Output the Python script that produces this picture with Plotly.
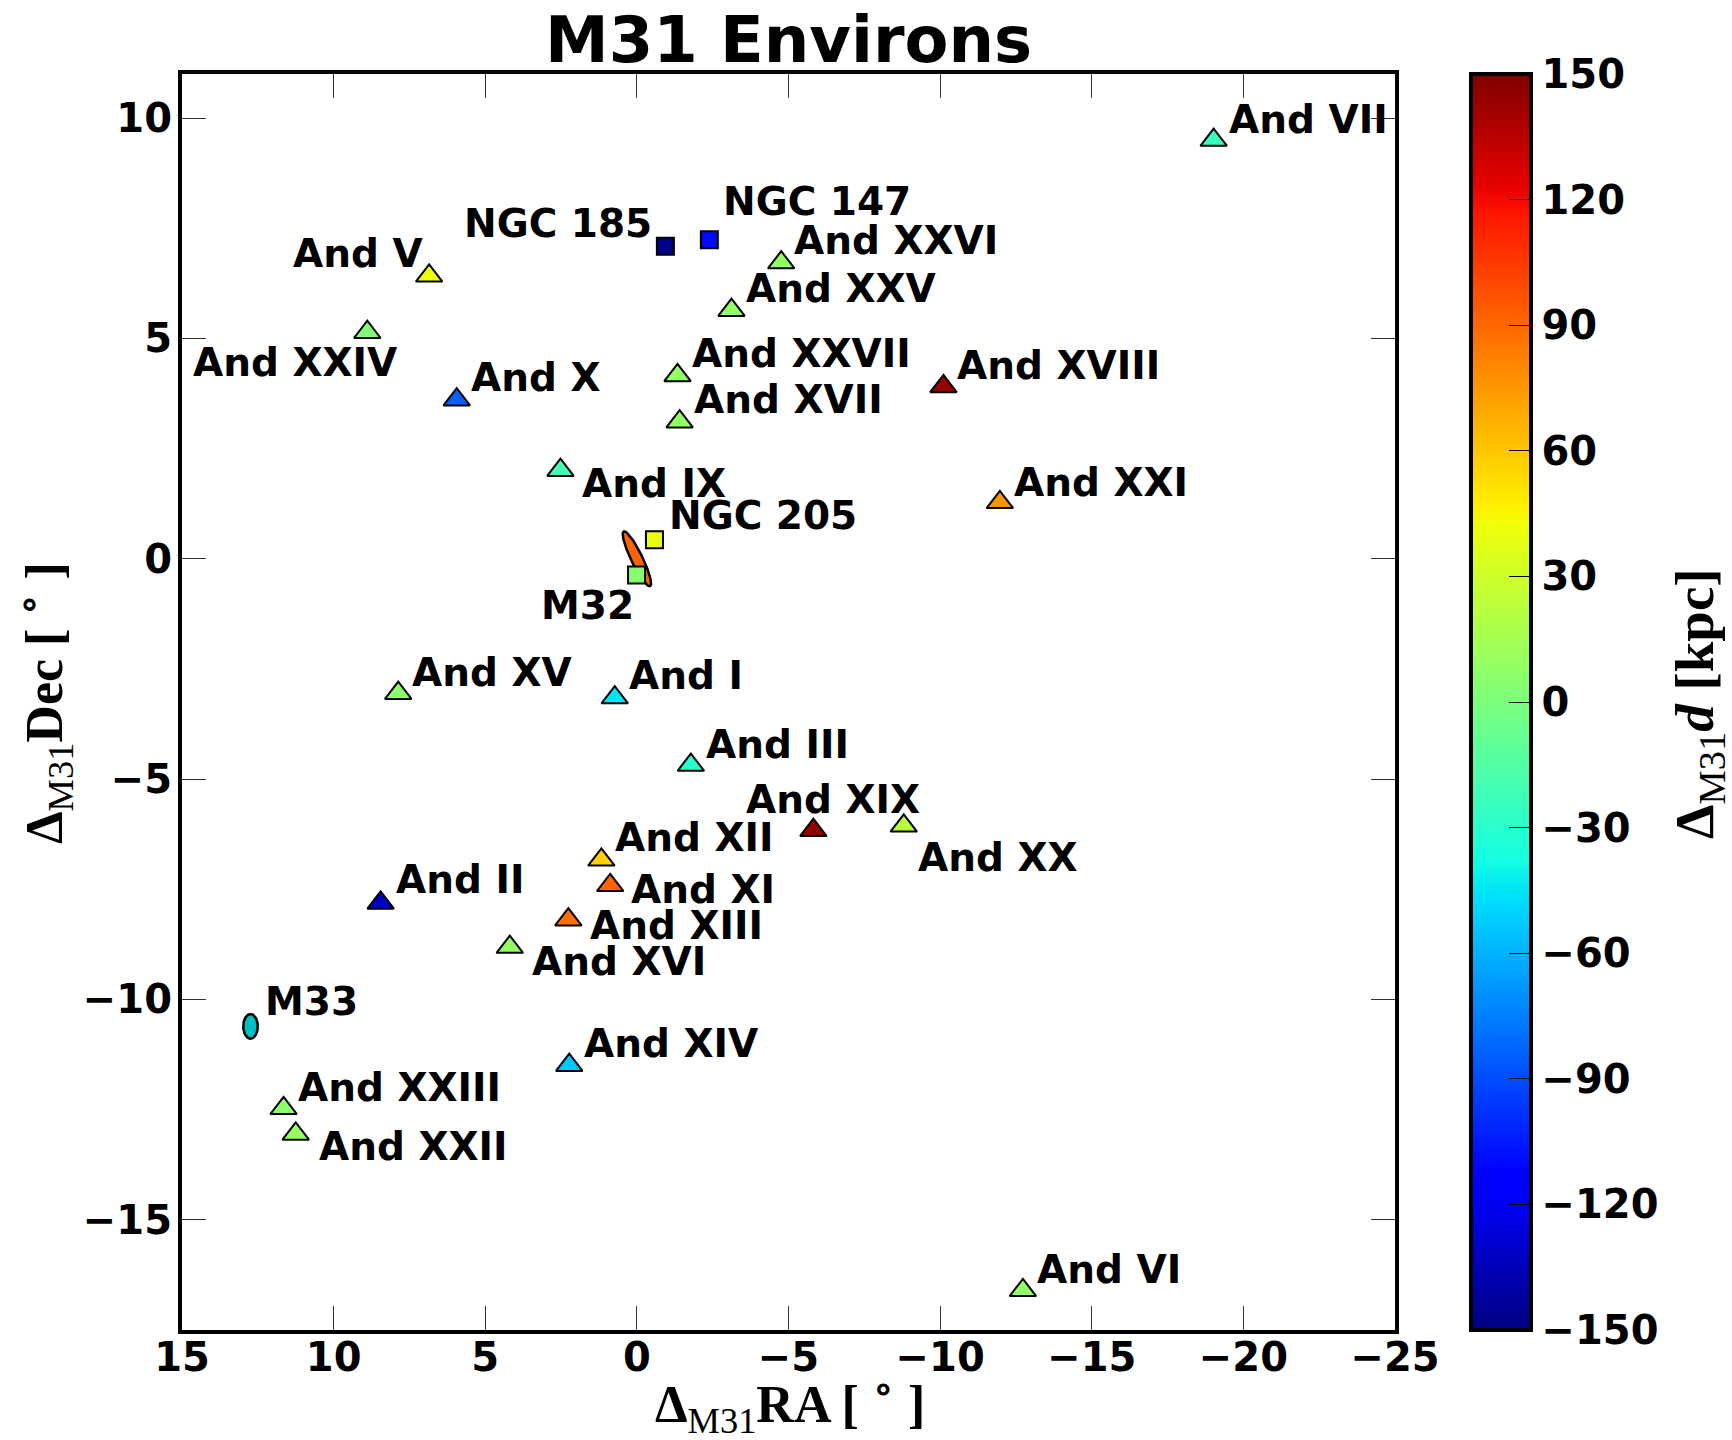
import numpy as np
import plotly.graph_objects as go

# ---- satellite data (offsets from M31, degrees; line-of-sight offset, kpc) ----
tri_names = ["And VII", "And XXVI", "And V", "And XXV", "And XXIV", "And XXVII",
             "And X", "And XVIII", "And XVII", "And IX", "And XXI", "And XV",
             "And I", "And III", "And XIX", "And XX", "And XII", "And XI",
             "And II", "And XIII", "And XVI", "And XIV", "And XXIII", "And XXII",
             "And VI"]
tri_ra = [-19.02, -4.76, 6.85, -3.12, 8.89, -1.34,
          5.94, -10.11, -1.41, 2.52, -11.97, 7.87,
          0.73, -1.78, -5.82, -8.80, 1.17, 0.88,
          8.45, 2.26, 4.19, 2.23, 11.65, 11.25,
          -12.73]
tri_dec = [9.50, 6.72, 6.42, 5.64, 5.14, 4.16,
           3.61, 3.91, 3.11, 2.01, 1.28, -3.05,
           -3.15, -4.68, -6.16, -6.06, -6.83, -7.41,
           -7.81, -8.19, -8.81, -11.49, -12.47, -13.05,
           -16.60]
tri_dd = [-24, 8, 42, 8, 2, 8,
          -84, 144, 8, -22, 76, 6,
          -45, -30, 145, 22, 57, 91,
          -132, 88, 8, -54, 6, 10,
          8]

sq_names = ["NGC 147", "NGC 185", "NGC 205", "M32"]
sq_ra = [-2.39, -0.94, -0.58, 0.01]
sq_dec = [7.24, 7.09, 0.43, -0.37]
sq_dd = [-110, -149, 40, 4]

# extended hosts drawn as ellipses: centre, semi-axes (deg), position angle (deg)
ell_names = ["M31", "M33"]
ell_ra = [0.0, 12.74]
ell_dec = [0.0, -10.61]
ell_a = [0.76, 0.28]
ell_b = [0.17, 0.24]
ell_pa = [36.0, 0.0]

# ---- label placement: (xshift px, yshift px, xanchor) relative to marker ----
label_pos = {
    "And VII": (13, 21, "left"), "NGC 147": (12, 38, "left"),
    "NGC 185": (-11, 23, "right"), "And XXVI": (11, 22, "left"),
    "And V": (-4, 22, "right"), "And XXV": (13, 22, "left"),
    "And XXIV": (32, -30, "right"), "And XXVII": (12, 22, "left"),
    "And X": (12, 22, "left"), "And XVIII": (12, 21, "left"),
    "And XVII": (12, 22, "left"), "And IX": (20, -13, "left"),
    "And XXI": (12, 20, "left"), "NGC 205": (13, 24, "left"),
    "M32": (-1, -30, "right"), "And XV": (12, 21, "left"),
    "And I": (12, 22, "left"), "And III": (13, 21, "left"),
    "And XIX": (20, 31, "center"), "And XX": (12, -32, "left"),
    "And XII": (12, 22, "left"), "And XI": (19, -4, "left"),
    "And II": (13, 23, "left"), "And XIII": (20, -6, "left"),
    "And XVI": (20, -14, "left"), "M33": (12, 25, "left"),
    "And XIV": (13, 22, "left"), "And XXIII": (12, 21, "left"),
    "And XXII": (21, -13, "left"), "And VI": (12, 21, "left"),
}

# ---- jet colour map (matplotlib segment definition) ----
seg_r = [(0, 0), (0.35, 0), (0.66, 1), (0.89, 1), (1, 0.5)]
seg_g = [(0, 0), (0.125, 0), (0.375, 1), (0.64, 1), (0.91, 0), (1, 0)]
seg_b = [(0, 0.5), (0.11, 1), (0.34, 1), (0.65, 0), (1, 0)]
knots = sorted({p for seg in (seg_r, seg_g, seg_b) for p, _ in seg})


def seg_val(seg, t):
    return float(np.interp(t, [p for p, _ in seg], [v for _, v in seg]))


def jet_rgb(t):
    return "rgb(%d,%d,%d)" % tuple(round(255 * seg_val(s, t)) for s in (seg_r, seg_g, seg_b))


jet = [[t, jet_rgb(t)] for t in knots]

ell_fill = ["rgb(255,100,0)", "rgb(0,190,196)"]

# plot-area geometry (pixels)
W, H = 1732, 1440
L, R, T, B = 182, 1395, 74, 1330
PW, PH = R - L, B - T


def px(x):
    return (x - L) / PW


def py(y):
    return (B - y) / PH


fig = go.Figure()

# extended galaxies
for name, x0, y0, a, b, pa, col in zip(ell_names, ell_ra, ell_dec, ell_a, ell_b, ell_pa, ell_fill):
    t = np.linspace(0, 2 * np.pi, 121)
    th = np.radians(pa)
    ux, uy = np.sin(th), np.cos(th)
    vx, vy = np.cos(th), -np.sin(th)
    xs = x0 + a * np.cos(t) * ux + b * np.sin(t) * vx
    ys = y0 + a * np.cos(t) * uy + b * np.sin(t) * vy
    fig.add_trace(go.Scatter(x=xs, y=ys, mode="lines", fill="toself",
                             fillcolor=col, line=dict(color="black", width=2.5),
                             hoverinfo="skip", showlegend=False))

fig.add_trace(go.Scatter(
    x=sq_ra, y=sq_dec, mode="markers", text=sq_names, showlegend=False,
    marker=dict(symbol="square", size=17, color=sq_dd, coloraxis="coloraxis",
                line=dict(color="black", width=2))))

fig.add_trace(go.Scatter(
    x=tri_ra, y=tri_dec, mode="markers", text=tri_names, showlegend=False,
    marker=dict(symbol="triangle-up", size=23, color=tri_dd, coloraxis="coloraxis",
                line=dict(color="black", width=2))))

label_font = dict(family="DejaVu Sans", size=39, color="black", weight="bold")
all_names = tri_names + sq_names + ["M33"]
all_x = tri_ra + sq_ra + [ell_ra[1]]
all_y = tri_dec + sq_dec + [ell_dec[1]]
for name, x, y in zip(all_names, all_x, all_y):
    dx, dy, anc = label_pos[name]
    fig.add_annotation(x=x, y=y, text=name, showarrow=False, xanchor=anc,
                       yanchor="middle", xshift=dx, yshift=dy, font=label_font)

serif = dict(family="Liberation Serif", size=52, color="black")
fig.add_annotation(xref="paper", yref="paper", x=0.5, y=py(40), text="M31 Environs",
                   showarrow=False, xanchor="center", yanchor="middle",
                   font=dict(family="DejaVu Sans", size=64, color="black", weight="bold"))
fig.add_annotation(xref="paper", yref="paper", x=px(790), y=py(1404),
                   text="<b>Δ</b><sub>M31</sub><b>RA [ <sup>∘</sup> ]</b>",
                   showarrow=False, xanchor="center", yanchor="middle", font=serif)
fig.add_annotation(xref="paper", yref="paper", x=px(44), y=py(703), textangle=-90,
                   text="<b>Δ</b><sub>M31</sub><b>Dec [ <sup>∘</sup> ]</b>",
                   showarrow=False, xanchor="center", yanchor="middle", font=serif)
fig.add_annotation(xref="paper", yref="paper", x=px(1698), y=py(704), textangle=-90,
                   text="<b>Δ</b><sub>M31</sub><i><b>d</b></i><b> [kpc]</b>",
                   showarrow=False, xanchor="center", yanchor="middle",
                   font=dict(family="Liberation Serif", size=55, color="black"))

tick_font = dict(family="DejaVu Sans", size=40, color="black", weight="bold")
axis_common = dict(showgrid=False, zeroline=False, showline=True, linewidth=4,
                   linecolor="black", mirror="allticks", ticks="inside", ticklen=24,
                   tickwidth=1, tickcolor="#333333", tickfont=tick_font, dtick=5)

fig.update_layout(
    width=W, height=H, paper_bgcolor="white", plot_bgcolor="white",
    margin=dict(l=L, r=W - R, t=T, b=H - B),
    xaxis=dict(range=[15, -25], tick0=0, ticklabelstandoff=-11, **axis_common),
    yaxis=dict(range=[-17.5, 11], tick0=0, ticklabelstandoff=-2, **axis_common),
    coloraxis=dict(
        colorscale=jet, cmin=-150, cmax=150,
        colorbar=dict(
            x=px(1471), xanchor="left", xpad=0,
            y=0.5, yanchor="middle", ypad=0,
            len=1, lenmode="fraction", thickness=60, thicknessmode="pixels",
            outlinewidth=4, outlinecolor="black",
            tickvals=list(range(-150, 151, 30)), ticks="inside", ticklen=24,
            tickwidth=1, tickcolor="black", tickfont=tick_font,
        ),
    ),
)

fig.write_html("out.html")
